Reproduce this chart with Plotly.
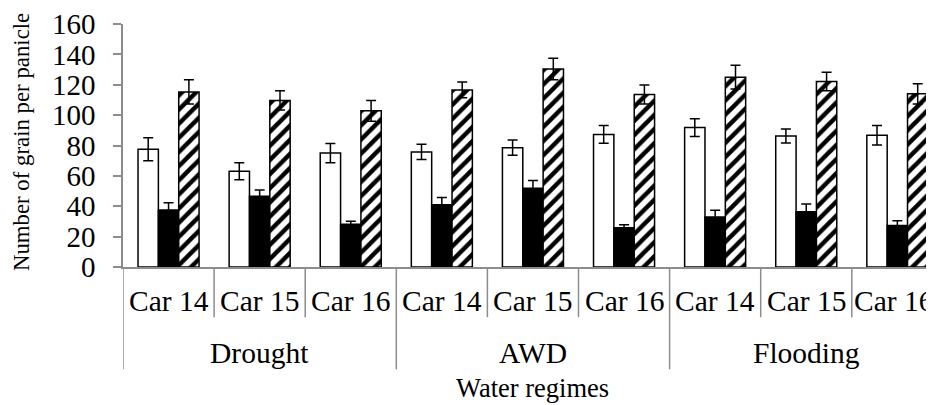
import plotly.graph_objects as go

# ---- data ----
groups = ["Drought", "Drought", "Drought", "AWD", "AWD", "AWD", "Flooding", "Flooding", "Flooding"]
cars = ["Car 14", "Car 15", "Car 16", "Car 14", "Car 15", "Car 16", "Car 14", "Car 15", "Car 16"]
group_names = ["Drought", "AWD", "Flooding"]

white_vals = [77.5, 63.0, 75.0, 75.8, 78.6, 87.3, 91.8, 86.2, 86.8]
white_err = [7.6, 5.6, 6.3, 5.1, 5.1, 5.8, 5.8, 4.6, 6.4]
black_vals = [37.6, 46.6, 28.1, 41.0, 51.8, 25.9, 33.0, 36.3, 27.4]
black_err = [4.7, 4.1, 2.0, 4.8, 5.2, 2.0, 4.4, 5.2, 3.0]
hatch_vals = [115.3, 109.7, 102.8, 116.6, 130.4, 113.6, 125.0, 122.2, 114.0]
hatch_err = [8.0, 6.3, 6.9, 5.2, 7.1, 6.3, 7.8, 6.1, 6.6]

y_ticks = [0, 20, 40, 60, 80, 100, 120, 140, 160]
x_title = "Water regimes"
y_title = "Number of grain per panicle"

FONT = "Liberation Serif, Times New Roman, serif"
GRAY = "#8c8c8c"
xpos = list(range(len(cars)))

err_style = dict(type="data", visible=True, color="black", thickness=1.5, width=5)

fig = go.Figure()
fig.add_trace(go.Bar(x=xpos, y=white_vals, name="Series 1",
                     marker=dict(color="white", line=dict(color="black", width=1.5)),
                     error_y=dict(array=white_err, **err_style)))
fig.add_trace(go.Bar(x=xpos, y=black_vals, name="Series 2",
                     marker=dict(color="black", line=dict(color="black", width=1.5)),
                     error_y=dict(array=black_err, **err_style)))
fig.add_trace(go.Bar(x=xpos, y=hatch_vals, name="Series 3",
                     marker=dict(color="white", line=dict(color="black", width=1.5),
                                 pattern=dict(shape="/", fgcolor="black", bgcolor="white",
                                              size=10, solidity=0.45, fillmode="replace")),
                     error_y=dict(array=hatch_err, **err_style)))

# page offset of 8px (body margin); plot area in page px: x 123..943, y 20..267
plot_h = 247.0
def py(px):
    return (267.0 - px) / plot_h

shapes = []
for i in range(len(cars)):
    b = i - 0.5
    is_group = (i % 3 == 0)
    shapes.append(dict(type="line", xref="x", yref="paper", x0=b, x1=b,
                       y0=0, y1=py(371 if is_group else 318),
                       line=dict(color=GRAY, width=1.5)))
annotations = []
for i, c in enumerate(cars):
    annotations.append(dict(x=i, y=py(302), xref="x", yref="paper", text=c,
                            showarrow=False, xanchor="center", yanchor="middle",
                            xshift=(-4 if i == len(cars) - 1 else 0),
                            font=dict(family=FONT, size=29.5, color="black")))
for gi, g in enumerate(group_names):
    annotations.append(dict(x=gi * 3 + 1, y=py(354), xref="x", yref="paper", text=g,
                            showarrow=False, xanchor="center", yanchor="middle",
                            font=dict(family=FONT, size=29.5, color="black")))
annotations.append(dict(x=4, y=py(390), xref="x", yref="paper", text=x_title,
                        showarrow=False, xanchor="center", yanchor="middle",
                        font=dict(family=FONT, size=26.5, color="black")))
annotations.append(dict(x=(21 - 123) / 811.0, y=py(140), xref="paper", yref="paper",
                        text=y_title, textangle=-90, showarrow=False,
                        xanchor="center", yanchor="middle",
                        font=dict(family=FONT, size=22.8, color="black")))

fig.update_layout(
    width=926, height=397,
    margin=dict(l=115, r=0, t=12, b=138, pad=0),
    plot_bgcolor="white", paper_bgcolor="white",
    barmode="group", bargap=0.33, bargroupgap=0,
    showlegend=False,
    shapes=shapes, annotations=annotations,
    font=dict(family=FONT, size=29, color="black"),
    xaxis=dict(range=[-0.5, -0.5 + 811 / 91.1], showticklabels=False, ticks="",
               showgrid=False, zeroline=False, showline=True, linecolor=GRAY, linewidth=1.5,
               fixedrange=True),
    yaxis=dict(range=[0, 160], tickvals=y_ticks, ticks="outside", ticklen=8,
               tickcolor=GRAY, tickwidth=1.5, showgrid=False, zeroline=False,
               showline=True, linecolor=GRAY, linewidth=1.5, ticklabelstandoff=12,
               ticklabeloverflow="allow",
               tickfont=dict(family=FONT, size=29, color="black"), fixedrange=True),
)

fig.write_html("out.html")
